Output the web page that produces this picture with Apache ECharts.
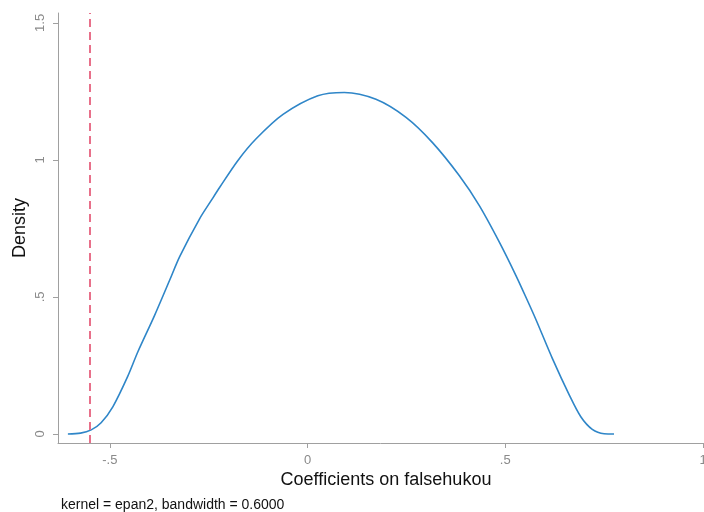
<!DOCTYPE html>
<html>
<head>
<meta charset="utf-8">
<script src="https://cdn.jsdelivr.net/npm/echarts@6/dist/echarts.min.js"></script>
<style>html,body{margin:0;padding:0;background:#fff}#c{width:704px;height:512px}</style>
</head>
<body>
<div id="c"></div>
<script>
const xValues = [-0.606, -0.574, -0.547, -0.522, -0.492, -0.455, -0.429, -0.387, -0.349, -0.323, -0.273, -0.243, -0.222, -0.176, -0.130, -0.062, 0.026, 0.093, 0.173, 0.249, 0.316, 0.384, 0.434, 0.485, 0.527, 0.556, 0.578, 0.619, 0.662, 0.691, 0.720, 0.750, 0.775];
const density = [0, 0.003, 0.015, 0.041, 0.100, 0.209, 0.300, 0.432, 0.560, 0.648, 0.785, 0.853, 0.900, 0.998, 1.077, 1.166, 1.234, 1.246, 1.221, 1.155, 1.063, 0.942, 0.834, 0.700, 0.578, 0.487, 0.416, 0.276, 0.142, 0.063, 0.017, 0.001, 0];
const refLine = -0.548;
const xTicks = [-0.5, 0, 0.5, 1];
const yTicks = [0, 0.5, 1, 1.5];
const xTitle = 'Coefficients on falsehukou';
const yTitle = 'Density';
const note = 'kernel = epan2, bandwidth = 0.6000';

const fmt = v => v === 0 ? '0' : String(v).replace('0.', '.');
const font = 'Helvetica, "Liberation Sans", Arial, sans-serif';

const chart = echarts.init(document.getElementById('c'), null, {renderer: 'canvas'});
chart.setOption({
  animation: false,
  grid: {left: 58, right: 1, top: 13, bottom: 69, containLabel: false, outerBoundsMode: 'none'},
  xAxis: {
    type: 'value', min: -0.631, max: 1.0,
    axisLine: {show: true, onZero: false, lineStyle: {color: '#a0a0a0', width: 1}},
    axisTick: {show: true, length: 5, lineStyle: {color: '#a0a0a0'}, customValues: xTicks},
    axisLabel: {customValues: xTicks, formatter: fmt, color: '#8a8a8a', fontSize: 13, fontFamily: font, margin: 11},
    splitLine: {show: false}
  },
  yAxis: {
    type: 'value', min: -0.033, max: 1.536,
    axisLine: {show: true, onZero: false, lineStyle: {color: '#a0a0a0', width: 1}},
    axisTick: {show: true, length: 5, lineStyle: {color: '#a0a0a0'}, customValues: yTicks},
    axisLabel: {customValues: yTicks, formatter: fmt, color: '#8a8a8a', fontSize: 13, fontFamily: font, rotate: 90, margin: 11},
    splitLine: {show: false}
  },
  graphic: [
    {type: 'text', x: 386, y: 480, style: {text: xTitle, fontSize: 18, fontFamily: font, fill: '#111', align: 'center', verticalAlign: 'middle'}},
    {type: 'text', x: 20, y: 228, rotation: Math.PI / 2, style: {text: yTitle, fontSize: 18, fontFamily: font, fill: '#111', align: 'center', verticalAlign: 'middle'}},
    {type: 'text', x: 61, y: 505, style: {text: note, fontSize: 14, fontFamily: font, fill: '#111', align: 'left', verticalAlign: 'middle'}}
  ],
  series: [{
    type: 'line',
    data: xValues.map((x, i) => [x, density[i]]),
    showSymbol: false,
    smooth: 0.3,
    lineStyle: {color: '#2f86c8', width: 1.6},
    markLine: {
      silent: true, symbol: 'none', label: {show: false},
      lineStyle: {color: '#e8708a', type: [8, 5], width: 2},
      data: [{xAxis: refLine}]
    }
  }]
});
</script>
</body>
</html>
